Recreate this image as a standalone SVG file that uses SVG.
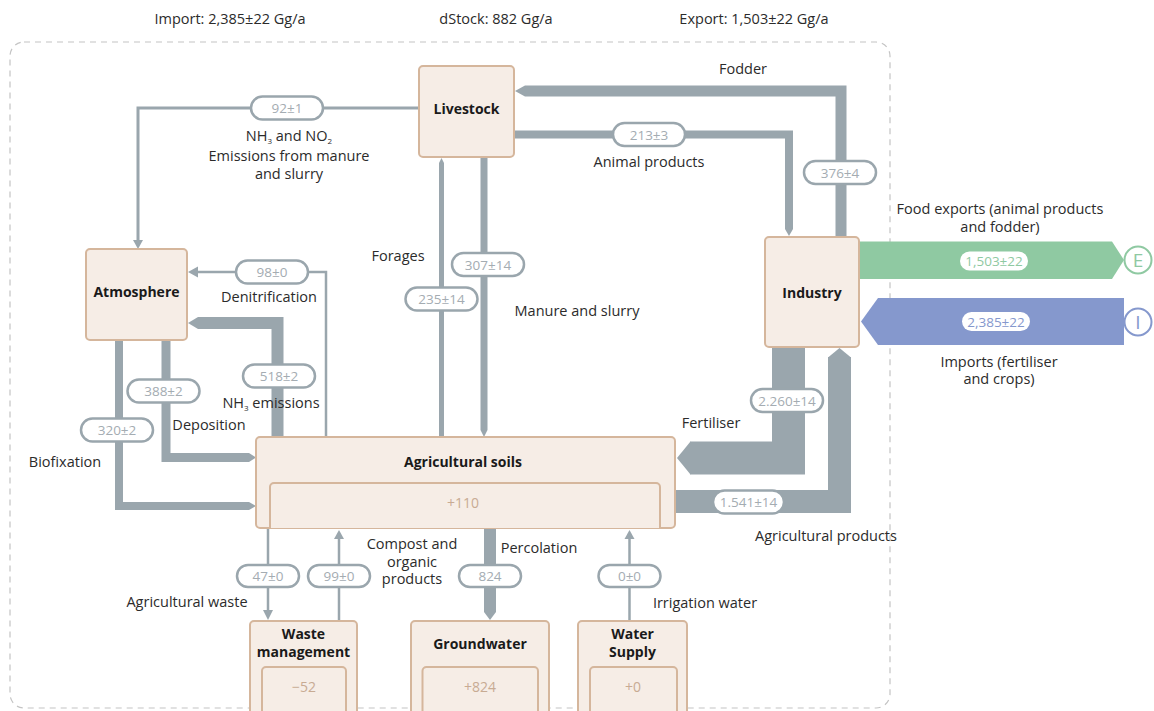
<svg xmlns="http://www.w3.org/2000/svg" width="1154" height="711" viewBox="0 0 1154 711">
  <style>
    .lbl { font-family: "Open Sans", "Noto Sans", sans-serif; font-size: 14.5px; fill: #2b2b2b; text-anchor: middle; }
    .hdr { font-family: "Open Sans", "Noto Sans", sans-serif; font-size: 14.5px; fill: #2b2b2b; text-anchor: middle; }
    .ttl { font-family: "Open Sans", "Noto Sans", sans-serif; font-size: 14px; font-weight: bold; fill: #1a1a1a; text-anchor: middle; }
    .val { font-family: "Open Sans", "Noto Sans", sans-serif; font-size: 14px; fill: #c8ab93; text-anchor: middle; }
    .box { fill: #f6ede6; stroke: #d5b69c; stroke-width: 2; }
    .inner { fill: #f6ede6; stroke: #d5b69c; stroke-width: 2; }
    .flow { fill: none; stroke: #9aa6ad; stroke-linejoin: miter; }
    .tip { fill: #9aa6ad; }
    .pill { fill: #ffffff; stroke: #9aa6ad; stroke-width: 2.5; }
    .ptxt { font-family: "Open Sans", "Noto Sans", sans-serif; font-size: 13.5px; fill: #a4acb2; text-anchor: middle; }
    .sub { font-size: 8px; }
  </style>

  <!-- system boundary -->
  <rect x="10" y="42" width="880" height="666" rx="14" fill="none" stroke="#c4c4c4" stroke-width="1.2" stroke-dasharray="6 5"/>

  <!-- balance headers -->
  <text class="hdr" x="230" y="24">Import: 2,385±22 Gg/a</text>
  <text class="hdr" x="496" y="24">dStock: 882 Gg/a</text>
  <text class="hdr" x="754" y="24">Export: 1,503±22 Gg/a</text>

  <g id="connectors">
    <!-- export / import bands -->
    <polygon points="859,241.5 1112,241.5 1124,260 1112,279 859,279" fill="#8fc9a2"/>
    <circle cx="1138" cy="260" r="13.5" fill="#ffffff" stroke="#8fc9a2" stroke-width="2"/>
    <text x="1138" y="267" font-family="Open Sans, sans-serif" font-size="19" fill="#8fc9a2" text-anchor="middle">E</text>
    <polygon points="1124,298 878,298 861,321.5 878,345 1124,345" fill="#8598cd"/>
    <circle cx="1138" cy="322" r="13.5" fill="#ffffff" stroke="#8598cd" stroke-width="2"/>
    <text x="1138" y="329" font-family="Open Sans, sans-serif" font-size="19" fill="#8598cd" text-anchor="middle">I</text>

    <!-- Livestock -> Atmosphere -->
    <path class="flow" stroke-width="3" d="M419,108 H138 V241"/>
    <polygon class="tip" points="133,240 138,249 143,240"/>
    <!-- Fodder: Industry -> Livestock -->
    <path class="flow" stroke-width="11" d="M841,237 V91 H525"/>
    <polygon class="tip" points="525,85.5 515,91 525,96.5"/>
    <!-- Animal products: Livestock -> Industry -->
    <path class="flow" stroke-width="8" d="M514,134.5 H789 V229"/>
    <polygon class="tip" points="785,229 789,236 793,229"/>
    <!-- Forages -->
    <path class="flow" stroke-width="5" d="M441.5,437 V163"/>
    <polygon class="tip" points="439,163 441.5,158 444,163"/>
    <!-- Manure and slurry -->
    <path class="flow" stroke-width="7" d="M484,157 V430"/>
    <polygon class="tip" points="480.5,430 484,437 487.5,430"/>
    <!-- Denitrification -->
    <path class="flow" stroke-width="2.5" d="M326,437 V272 H198"/>
    <polygon class="tip" points="198,266.5 188,272 198,277.5"/>
    <!-- NH3 emissions -->
    <path class="flow" stroke-width="12" d="M277.5,437 V323 H198"/>
    <polygon class="tip" points="198,317 188,323 198,329"/>
    <!-- Deposition -->
    <path class="flow" stroke-width="9" d="M166,340 V457.5 H249"/>
    <polygon class="tip" points="249,453 256,457.5 249,462"/>
    <!-- Biofixation -->
    <path class="flow" stroke-width="8" d="M119,340 V506 H249"/>
    <polygon class="tip" points="249,502 256,506 249,510"/>
    <!-- Fertiliser -->
    <path class="flow" stroke-width="33" d="M788.5,347 V458 H690"/>
    <polygon class="tip" points="690.5,441.5 677,458 690.5,474.5"/>
    <!-- Agricultural products -->
    <path class="flow" stroke-width="23" d="M675,501.5 H839.5 V357"/>
    <polygon class="tip" points="828,357.5 839.5,348 851,357.5"/>
    <!-- Agricultural waste -->
    <path class="flow" stroke-width="2.5" d="M268,528 V610"/>
    <polygon class="tip" points="263,610 268,620 273,610"/>
    <!-- Compost and organic products -->
    <path class="flow" stroke-width="2.5" d="M339,621 V539"/>
    <polygon class="tip" points="334,539 339,530 344,539"/>
    <!-- Percolation -->
    <path class="flow" stroke-width="12" d="M490,528 V612"/>
    <polygon class="tip" points="484,612 490,620 496,612"/>
    <!-- Irrigation water -->
    <path class="flow" stroke-width="2.5" d="M629.5,621 V539"/>
    <polygon class="tip" points="624.5,539 629.5,530 634.5,539"/>

    <!-- flow values -->
    <rect class="pill" x="251" y="96.5" width="72" height="23" rx="11.5"/>
    <text class="ptxt" x="287" y="113">92±1</text>
    <rect class="pill" x="613" y="123" width="72" height="23" rx="11.5"/>
    <text class="ptxt" x="649" y="139.5">213±3</text>
    <rect class="pill" x="804" y="161" width="72" height="23" rx="11.5"/>
    <text class="ptxt" x="840" y="177.5">376±4</text>
    <rect class="pill" x="405.5" y="287.5" width="72" height="23" rx="11.5"/>
    <text class="ptxt" x="441.5" y="304">235±14</text>
    <rect class="pill" x="452" y="253" width="72" height="23" rx="11.5"/>
    <text class="ptxt" x="488" y="269.5">307±14</text>
    <rect class="pill" x="236" y="260.5" width="72" height="23" rx="11.5"/>
    <text class="ptxt" x="272" y="277">98±0</text>
    <rect class="pill" x="243" y="364.5" width="72" height="23" rx="11.5"/>
    <text class="ptxt" x="279" y="381">518±2</text>
    <rect class="pill" x="127.5" y="379.5" width="72" height="23" rx="11.5"/>
    <text class="ptxt" x="163.5" y="396">388±2</text>
    <rect class="pill" x="81" y="418.5" width="72" height="23" rx="11.5"/>
    <text class="ptxt" x="117" y="435">320±2</text>
    <rect class="pill" x="751" y="389" width="72" height="23" rx="11.5"/>
    <text class="ptxt" x="787" y="405.5">2.260±14</text>
    <rect class="pill" x="713" y="490.5" width="71" height="23" rx="11.5"/>
    <text class="ptxt" x="748.5" y="507">1.541±14</text>
    <rect class="pill" x="237" y="565" width="62" height="22" rx="11"/>
    <text class="ptxt" x="268" y="581">47±0</text>
    <rect class="pill" x="308" y="565" width="62" height="22" rx="11"/>
    <text class="ptxt" x="339" y="581">99±0</text>
    <rect class="pill" x="459" y="565" width="62" height="22" rx="11"/>
    <text class="ptxt" x="490" y="581">824</text>
    <rect class="pill" x="598.5" y="565" width="62" height="22" rx="11"/>
    <text class="ptxt" x="629.5" y="581">0±0</text>
    <rect x="960" y="251.5" width="68" height="19" rx="9.5" fill="#ffffff"/>
    <text class="ptxt" x="994" y="266" style="fill:#8fc9a2">1,503±22</text>
    <rect x="962" y="312" width="68" height="19" rx="9.5" fill="#ffffff"/>
    <text class="ptxt" x="996" y="326.5" style="fill:#8598cd">2,385±22</text>

    <!-- flow labels -->
    <text class="lbl" x="289" y="141">NH<tspan class="sub" dy="3">3</tspan><tspan dy="-3"> and NO</tspan><tspan class="sub" dy="3">2</tspan></text>
    <text class="lbl" x="289" y="161">Emissions from manure</text>
    <text class="lbl" x="289" y="179">and slurry</text>
    <text class="lbl" x="743" y="74">Fodder</text>
    <text class="lbl" x="649" y="167">Animal products</text>
    <text class="lbl" x="1000" y="214">Food exports (animal products</text>
    <text class="lbl" x="1000" y="232">and fodder)</text>
    <text class="lbl" x="999" y="367">Imports (fertiliser</text>
    <text class="lbl" x="999" y="384">and crops)</text>
    <text class="lbl" x="398" y="261">Forages</text>
    <text class="lbl" x="577" y="316">Manure and slurry</text>
    <text class="lbl" x="269" y="302">Denitrification</text>
    <text class="lbl" x="271" y="408">NH<tspan class="sub" dy="3">3</tspan><tspan dy="-3"> emissions</tspan></text>
    <text class="lbl" x="209" y="430">Deposition</text>
    <text class="lbl" x="65" y="467">Biofixation</text>
    <text class="lbl" x="711" y="428">Fertiliser</text>
    <text class="lbl" x="826" y="541">Agricultural products</text>
    <text class="lbl" x="187" y="607">Agricultural waste</text>
    <text class="lbl" x="412" y="549">Compost and</text>
    <text class="lbl" x="412" y="567">organic</text>
    <text class="lbl" x="412" y="584">products</text>
    <text class="lbl" x="539" y="553">Percolation</text>
    <text class="lbl" x="705" y="608">Irrigation water</text>
  </g>

  <g id="livestock">
    <rect class="box" x="419" y="66" width="95" height="91" rx="4"/>
    <text class="ttl" x="466.5" y="114">Livestock</text>
  </g>
  <g id="atmosphere">
    <rect class="box" x="86" y="249" width="101" height="91" rx="4"/>
    <text class="ttl" x="136.5" y="297">Atmosphere</text>
  </g>
  <g id="industry">
    <rect class="box" x="765" y="237" width="94" height="110" rx="4"/>
    <text class="ttl" x="812" y="298">Industry</text>
  </g>
  <g id="agricultural-soils">
    <rect class="box" x="256" y="437" width="419" height="91" rx="4"/>
    <text class="ttl" x="463" y="467">Agricultural soils</text>
    <path class="inner" d="M270,528 V487 a4,4 0 0 1 4,-4 H656 a4,4 0 0 1 4,4 V528"/>
    <text class="val" x="463" y="508">+110</text>
  </g>
  <g id="waste-management">
    <path class="box" d="M250,716 V625 a4,4 0 0 1 4,-4 H353 a4,4 0 0 1 4,4 V716"/>
    <text class="ttl" x="303.5" y="639">Waste</text>
    <text class="ttl" x="303.5" y="657">management</text>
    <path class="inner" d="M262,716 V671 a4,4 0 0 1 4,-4 H342 a4,4 0 0 1 4,4 V716"/>
    <text class="val" x="304" y="692">−52</text>
  </g>
  <g id="groundwater">
    <path class="box" d="M411,716 V625 a4,4 0 0 1 4,-4 H545 a4,4 0 0 1 4,4 V716"/>
    <text class="ttl" x="480" y="649">Groundwater</text>
    <path class="inner" d="M422.5,716 V671 a4,4 0 0 1 4,-4 H534 a4,4 0 0 1 4,4 V716"/>
    <text class="val" x="480" y="692">+824</text>
  </g>
  <g id="water-supply">
    <path class="box" d="M578,716 V625 a4,4 0 0 1 4,-4 H683 a4,4 0 0 1 4,4 V716"/>
    <text class="ttl" x="632.5" y="639">Water</text>
    <text class="ttl" x="632.5" y="657">Supply</text>
    <path class="inner" d="M590,716 V671 a4,4 0 0 1 4,-4 H673 a4,4 0 0 1 4,4 V716"/>
    <text class="val" x="633" y="692">+0</text>
  </g>
</svg>
